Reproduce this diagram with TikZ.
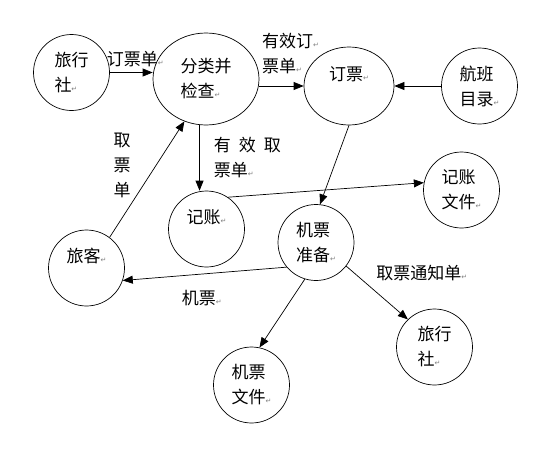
\documentclass[tikz,border=0pt]{standalone}
\usepackage{fontspec}
\setmainfont{Noto Sans CJK SC}
\newfontfamily\markfont{DejaVu Sans}
\usetikzlibrary{shapes.geometric, arrows.meta}
\newcommand{\pmk}{{\markfont\fontsize{7}{7}\selectfont\textcolor{gray}{↵}}}

\begin{document}
\begin{tikzpicture}[x=1pt, y=-1pt,
		font=\fontsize{17}{25}\selectfont,
		bub/.style={circle, draw, line width=0.7pt, minimum size=76pt, inner sep=0pt, align=left},
		oval/.style={ellipse, draw, line width=0.7pt, inner sep=0pt, align=left},
		flow/.style={line width=0.7pt, -{Triangle[length=10pt,width=8pt]}},
		lbl/.style={inner sep=2pt, align=left}]
		\useasboundingbox (0,0) rectangle (552,453);
		% Processes
		\node[bub] (agency) at (71.5,72.5) {旅行\\社\pmk};
		\node[oval, minimum width=106pt, minimum height=92pt] (check) at (206,79) {分类并\\检查\pmk};
		\node[oval, minimum width=90pt, minimum height=78pt] (book) at (349,86) {订票\pmk\\\mbox{}};
		\node[bub] (flights) at (479.5,86) {航班\\目录\pmk};
		\node[bub] (log) at (206.5,229) {记账\pmk\\\mbox{}};
		\node[bub] (logfile) at (461.5,190) {记账\\文件\pmk};
		\node[bub] (prep) at (316,242.5) {机票\\准备\pmk};
		\node[bub] (traveler) at (86.5,268) {旅客\pmk\\\mbox{}};
		\node[bub] (ticketfile) at (251.5,385) {机票\\文件\pmk};
		\node[bub] (agency2) at (434.5,347) {旅行\\社\pmk};

		% Data flows
		\draw[flow] (agency.east) -- (agency.east -| check.west) node[lbl, midway, above, xshift=4pt, yshift=3pt] {订票单\pmk};
		\draw[flow] (check.east |- book.west) -- (book.west) node[lbl, midway, above, xshift=9pt, yshift=10pt] {有效订\pmk\\票单\pmk};
		\draw[flow] (flights.west) -- (book.east);
		\draw[flow] (check.262) -- (check.262 |- log.north) node[lbl, midway, right, xshift=12pt] {有\hspace{8pt}效\hspace{8pt}取\\票单\pmk};
		\draw[flow] (traveler.53) -- (check.243) node[lbl, midway, left, align=center, xshift=-14pt, yshift=14pt] {取\\票\\单};
		\draw[flow] (book.south) -- (prep.84);
		\draw[flow] (log.56) -- (logfile.169);
		\draw[flow] (prep.220) -- (traveler.341) node[lbl, midway, below, xshift=-3pt, yshift=-14pt] {机票\pmk};
		\draw[flow] (prep.253) -- (ticketfile.78);
		\draw[flow] (prep.322) -- (agency2.134) node[lbl, midway, above right, xshift=-3pt, yshift=10pt] {取票通知单\pmk};
	\end{tikzpicture}
\end{document}
